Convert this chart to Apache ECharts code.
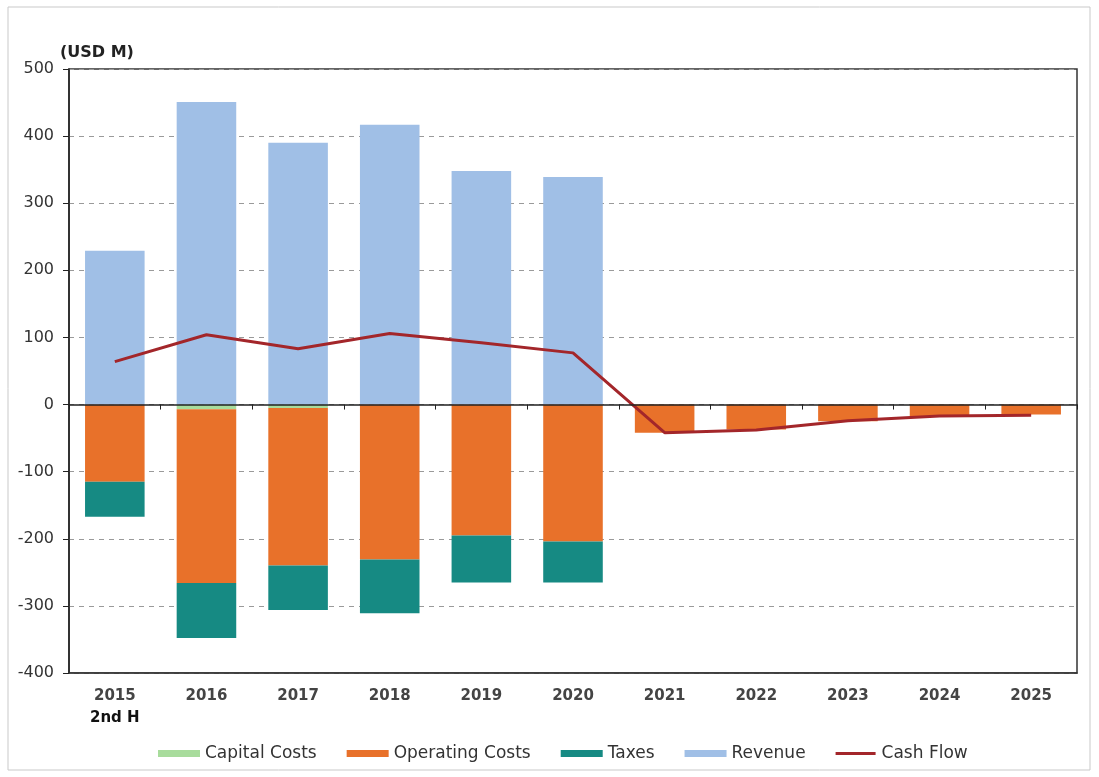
<!DOCTYPE html>
<html>
<head>
<meta charset="utf-8">
<script src="https://cdn.jsdelivr.net/npm/echarts@6/dist/echarts.min.js"></script>
<style>
html,body{margin:0;padding:0;background:#fff;}
#chart{width:1099px;height:777px;}
</style>
</head>
<body>
<div id="chart"></div>
<script>
const categories = ['2015', '2016', '2017', '2018', '2019', '2020', '2021', '2022', '2023', '2024', '2025'];
const subLabels = ['2nd H', '', '', '', '', '', '', '', '', '', ''];
const capitalCosts = [0, -7, -5, 0, 0, 0, 0, 0, 0, 0, 0];
const operatingCosts = [-115, -259, -235, -231, -195, -204, -42, -37, -25, -17, -15];
const taxes = [-52, -82, -66, -80, -70, -61, 0, 0, 0, 0, 0];
const revenue = [229, 451, 390, 417, 348, 339, null, null, null, null, null];
const cashFlow = [64, 104, 83, 106, 92, 77, -42, -38, -24, -17, -16];
const yTicks = { min: -400, max: 500, interval: 100 };

const FONT = 'DejaVu Sans';
const chart = echarts.init(document.getElementById('chart'), null, { renderer: 'canvas' });

const barCommon = { type: 'bar', stack: 'total', barWidth: '65%', xAxisIndex: 0 };

chart.setOption({
  animation: false,
  backgroundColor: '#fff',
  textStyle: { fontFamily: FONT },
  graphic: [{
    type: 'rect', silent: true, z: -10,
    shape: { x: 8, y: 7, width: 1082, height: 763 },
    style: { fill: 'none', stroke: '#c9c9c9', lineWidth: 1 }
  }],
  title: {
    text: '(USD M)', left: 55, top: 40,
    textStyle: { fontFamily: FONT, fontSize: 16, fontWeight: 'bold', color: '#222' }
  },
  grid: { left: 69, right: 22, top: 69, bottom: 104, show: true, borderColor: '#333', borderWidth: 1.5, backgroundColor: 'transparent' },
  legend: {
    left: 153, top: 740,
    itemWidth: 42, itemHeight: 7, itemGap: 30,
    textStyle: { fontFamily: FONT, fontSize: 17, color: '#333' },
    data: [
      { name: 'Capital Costs', icon: 'rect' },
      { name: 'Operating Costs', icon: 'rect' },
      { name: 'Taxes', icon: 'rect' },
      { name: 'Revenue', icon: 'rect' },
      { name: 'Cash Flow', icon: 'path://M0,0L40,0M0,2L40,2L40,5L0,5ZM0,7L40,7', itemStyle: { color: '#a3262a' } }
    ]
  },
  xAxis: [{
    type: 'category', data: categories, position: 'bottom',
    axisLine: { onZero: false, lineStyle: { color: '#333', width: 1.5 } },
    axisTick: { show: false },
    axisLabel: {
      margin: 12,
      formatter: function (v, i) {
        return subLabels[i] ? '{y|' + v + '}\n{s|' + subLabels[i] + '}' : '{y|' + v + '}';
      },
      rich: {
        y: { fontFamily: FONT, fontSize: 15, fontWeight: 'bold', color: '#444', lineHeight: 22 },
        s: { fontFamily: FONT, fontSize: 15, fontWeight: 'bold', color: '#111', lineHeight: 22 }
      }
    }
  }, {
    type: 'category', data: categories, position: 'top', z: 10,
    axisLine: { show: true, onZero: true, onZeroAxisIndex: 0, lineStyle: { color: '#222', width: 1.5 } },
    axisTick: { show: true, inside: true, length: 5, lineStyle: { color: '#222' } },
    axisLabel: { show: false },
    splitLine: { show: false }
  }],
  yAxis: {
    type: 'value', min: yTicks.min, max: yTicks.max, interval: yTicks.interval,
    axisLine: { show: true, lineStyle: { color: '#222', width: 1.5 } },
    axisTick: { show: true, length: 6, lineStyle: { color: '#222' } },
    axisLabel: { fontFamily: FONT, fontSize: 16, color: '#333', margin: 15 },
    splitLine: { show: true, lineStyle: { color: '#9a9a9a', type: [5, 5], width: 1 } }
  },
  series: [
    Object.assign({ name: 'Capital Costs', data: capitalCosts, itemStyle: { color: '#a8dc9c' } }, barCommon),
    Object.assign({ name: 'Operating Costs', data: operatingCosts, itemStyle: { color: '#e8712a' } }, barCommon),
    Object.assign({ name: 'Taxes', data: taxes, itemStyle: { color: '#168a83' } }, barCommon),
    Object.assign({ name: 'Revenue', data: revenue, itemStyle: { color: '#a0bfe6' } }, barCommon),
    {
      name: 'Cash Flow', type: 'line', data: cashFlow, xAxisIndex: 0,
      symbol: 'none', showSymbol: false, z: 5,
      lineStyle: { color: '#a3262a', width: 3 },
      itemStyle: { color: '#a3262a' }
    }
  ]
});
</script>
</body>
</html>
